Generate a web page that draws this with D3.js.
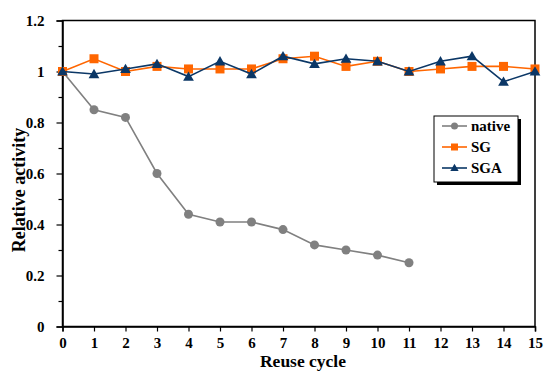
<!DOCTYPE html>
<html>
<head>
<meta charset="utf-8">
<script src="https://cdn.jsdelivr.net/npm/d3@7"></script>
<style>
  html, body { margin: 0; padding: 0; background: #fff; }
  svg { display: block; }
  text { font-family: 'Liberation Serif', serif; }
</style>
</head>
<body>
<svg id="chart" width="550" height="380"></svg>
<script>
// 数据
const cycles = d3.range(0, 16);
const nativeVals = [1, 0.85, 0.82, 0.60, 0.44, 0.41, 0.41, 0.38, 0.32, 0.30, 0.28, 0.25];
const sgVals = [1, 1.05, 1.00, 1.02, 1.01, 1.01, 1.01, 1.05, 1.06, 1.02, 1.04, 1.00, 1.01, 1.02, 1.02, 1.01];
const sgaVals = [1, 0.99, 1.01, 1.03, 0.98, 1.04, 0.99, 1.06, 1.03, 1.05, 1.04, 1.00, 1.04, 1.06, 0.96, 1.00];
const yTicks = [0, 0.2, 0.4, 0.6, 0.8, 1, 1.2];

const series = [
  { name: 'native', values: nativeVals, color: '#808080', marker: 'circle' },
  { name: 'SG', values: sgVals, color: '#ff6600', marker: 'square' },
  { name: 'SGA', values: sgaVals, color: '#0b3766', marker: 'triangle' }
];

const FONT = 'Liberation Serif';
const svg = d3.select('#chart').attr('font-family', FONT);
const margin = { left: 62.5, right: 15, top: 20.5, bottom: 53.5 };
const W = 550, H = 380;

const x = d3.scaleLinear().domain([0, 15]).range([margin.left, W - margin.right]);
const y = d3.scaleLinear().domain([0, 1.2]).range([H - margin.bottom, margin.top]);

// 绘图区边框
svg.append('rect')
  .attr('x', x(0)).attr('y', y(1.2))
  .attr('width', x(15) - x(0)).attr('height', y(0) - y(1.2))
  .attr('fill', 'none').attr('stroke', '#000').attr('stroke-width', 1.5);

// Y 轴
const yAxis = d3.axisLeft(y).tickValues(yTicks).tickSize(6).tickPadding(12)
  .tickFormat(d => d3.format('')(+d.toFixed(1)));
svg.append('g')
  .attr('transform', `translate(${x(0)},0)`)
  .call(yAxis)
  .call(g => {
    g.attr('font-family', FONT);
    g.select('.domain').attr('stroke-width', 1.5);
    g.selectAll('.tick line').attr('stroke-width', 1.2);
    g.selectAll('.tick text')
      .attr('font-size', 15).attr('font-weight', 'bold').attr('fill', '#000');
  });
// 次刻度
svg.append('g')
  .attr('transform', `translate(${x(0)},0)`)
  .call(d3.axisLeft(y).tickValues(d3.range(0.1, 1.2, 0.2)).tickSize(4).tickFormat(''))
  .call(g => { g.select('.domain').remove(); g.selectAll('.tick line').attr('stroke-width', 1.2); });

// X 轴
svg.append('g')
  .attr('transform', `translate(0,${y(0)})`)
  .call(d3.axisBottom(x).tickValues(cycles).tickSize(5).tickPadding(6).tickFormat(d3.format('d')))
  .call(g => {
    g.attr('font-family', FONT);
    g.select('.domain').attr('stroke-width', 1.5);
    g.selectAll('.tick line').attr('stroke-width', 1.2);
    g.selectAll('.tick text')
      .attr('font-size', 15).attr('font-weight', 'bold').attr('fill', '#000');
  });

// 轴标题
svg.append('text')
  .attr('x', 303).attr('y', 367)
  .attr('text-anchor', 'middle')
  .attr('font-family', FONT)
  .attr('font-size', 17.5).attr('font-weight', 'bold')
  .text('Reuse cycle');

svg.append('text')
  .attr('transform', `translate(25,190) rotate(-90)`)
  .attr('text-anchor', 'middle')
  .attr('font-family', FONT)
  .attr('font-size', 18).attr('font-weight', 'bold')
  .text('Relative activity');

// 标记绘制
function drawMarker(g, type, color, cx, cy) {
  if (type === 'circle') {
    g.append('circle').attr('cx', cx).attr('cy', cy).attr('r', 4.5).attr('fill', color);
  } else if (type === 'square') {
    g.append('rect').attr('x', cx - 4.5).attr('y', cy - 4.5).attr('width', 9).attr('height', 9).attr('fill', color);
  } else {
    g.append('path').attr('d', d3.symbol(d3.symbolTriangle, 50)()).attr('transform', `translate(${cx},${cy + 1})`).attr('fill', color);
  }
}

const line = d3.line().x((d, i) => x(i)).y(d => y(d));

series.forEach(s => {
  const g = svg.append('g');
  g.append('path')
    .datum(s.values)
    .attr('d', line)
    .attr('fill', 'none')
    .attr('stroke', s.color)
    .attr('stroke-width', 1.6);
  s.values.forEach((v, i) => drawMarker(g, s.marker, s.color, x(i), y(v)));
});

// 图例
const lg = svg.append('g').attr('transform', 'translate(434,116)');
const lw = 84, lh = 66;
lg.append('rect').attr('x', 3).attr('y', 3).attr('width', lw).attr('height', lh).attr('fill', '#000');
lg.append('rect').attr('width', lw).attr('height', lh).attr('fill', '#fff').attr('stroke', '#000').attr('stroke-width', 1);
series.forEach((s, i) => {
  const cy = 10 + i * 21;
  lg.append('line').attr('x1', 8).attr('x2', 33).attr('y1', cy).attr('y2', cy)
    .attr('stroke', s.color).attr('stroke-width', 1.6);
  const mg = lg.append('g');
  if (s.marker === 'circle') mg.append('circle').attr('cx', 20.5).attr('cy', cy).attr('r', 3.5).attr('fill', s.color);
  else if (s.marker === 'square') mg.append('rect').attr('x', 17).attr('y', cy - 3.5).attr('width', 7).attr('height', 7).attr('fill', s.color);
  else mg.append('path').attr('d', d3.symbol(d3.symbolTriangle, 30)()).attr('transform', `translate(20.5,${cy + 0.5})`).attr('fill', s.color);
  lg.append('text').attr('x', 37).attr('y', cy + 5)
    .attr('font-family', FONT)
    .attr('font-size', 15).attr('font-weight', 'bold').text(s.name);
});
</script>
</body>
</html>
